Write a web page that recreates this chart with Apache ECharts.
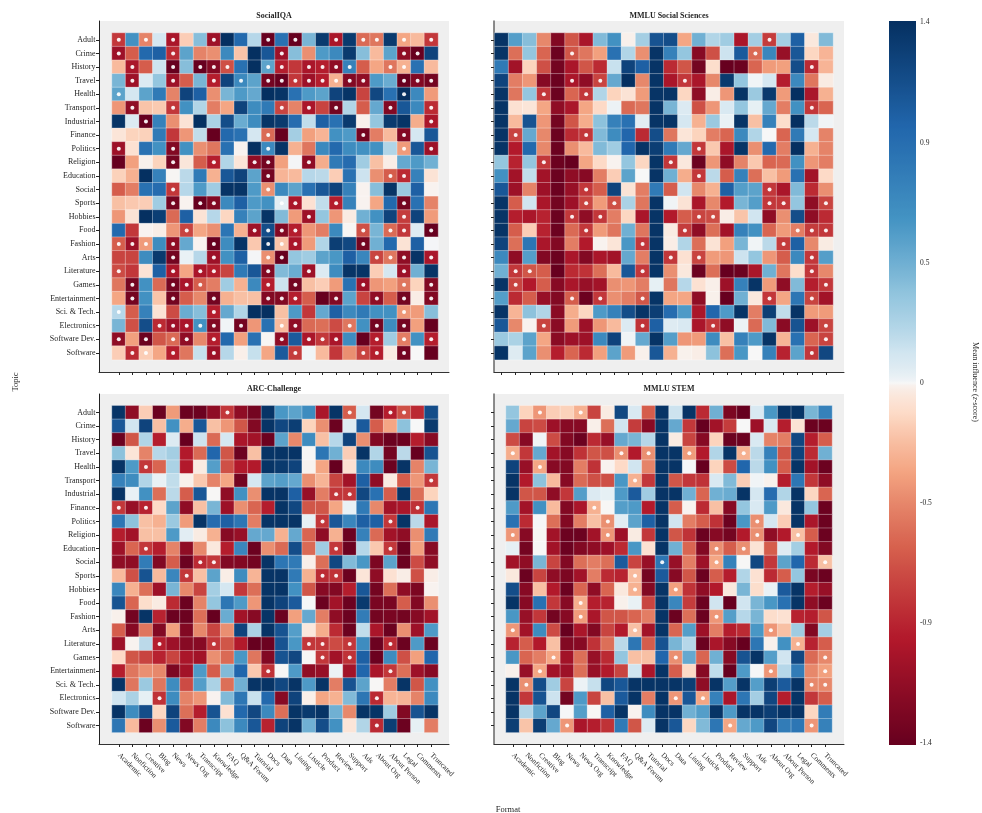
<!DOCTYPE html>
<html>
<head>
<meta charset="utf-8">
<style>html,body{margin:0;padding:0;background:#fff}#c{width:982px;height:813px}</style>
<script src="https://cdn.jsdelivr.net/npm/echarts@6/dist/echarts.min.js"></script>
</head>
<body>
<div id="c"></div>
<script>
const topics = ["Adult","Crime","History","Travel","Health","Transport","Industrial","Finance","Politics","Religion","Education","Social","Sports","Hobbies","Food","Fashion","Arts","Literature","Games","Entertainment","Sci. & Tech.","Electronics","Software Dev.","Software"];
const formats = ["Academic","Nonfiction","Creative","Blog","News","News Org","Transcript","Knowledge","FAQ","Q&A Forum","Tutorial","Docs","Data","Listing","Listicle","Product","Review","Support","Ads","About Org","About Person","Legal","Comments","Truncated"];
const colorbarStops = ["#67001f","#b2182b","#d6604d","#f4a582","#fddbc7","#f7f7f7","#d1e5f0","#92c5de","#4393c3","#2166ac","#053061"];
const colorMin = -1.4, colorMax = 1.4;

// Cell values, expressed as the position along the colour ramp (-1.4 .. 1.4).
const socialIQA = [
[-1,.85,-.7,.25,-1.15,-.35,.6,-1.2,1.4,1.1,.4,-1.4,1.05,-1.4,.65,1.35,-1.15,1.35,-.8,-.75,1.35,-.55,-.45,-1],
[-1.2,-.85,1.1,1.15,-1.05,.75,-.7,-.65,.9,-.4,1.4,1.2,-1.2,.6,-.65,.8,.9,1.35,.6,-.45,.75,-1.25,-1.4,1.3],
[-.45,-1.15,-.85,.3,-1.4,.6,-1.4,-1.3,-.9,1.05,1.4,.75,-1.1,-1,-1.15,-1.1,-1.25,.95,-.85,-.55,-.75,-.5,1.05,-.45],
[.65,-1.2,.2,.55,-1.2,-.85,.65,-1.1,1.3,.9,.75,-1.35,-1.4,-1,-1.2,-1.1,-.5,-1.3,-1.25,.8,.7,-1.4,-1.3,-1.35],
[.75,.25,.75,1,-.7,1.3,1.15,-.65,.65,.8,.72,1.4,1.38,1.05,.8,.75,1.3,1.38,-.95,1.28,1.05,1.4,.9,-.6],
[-.62,-1.25,-.4,-.37,-1,.85,.42,-.72,-.55,1.3,.88,1,-.95,-.7,-1.15,-.95,-1.35,.42,-.85,.72,-1.3,1.2,.9,-1.05],
[1.38,.2,-1.4,.95,-.65,-.2,1.4,.45,1.25,.7,.88,1.38,1.35,1.08,.35,1.15,1.05,1.35,-.07,.55,1.35,1.38,-.52,-1.15],
[-.18,-.32,-.33,1,-1,-.62,.35,-1.4,1.1,1.05,.25,-.8,-1.4,.48,-.58,-.48,.85,.8,-1.35,-.72,-.45,-1.3,.25,1.2],
[-1.2,-.22,1.05,.85,-1.3,.85,-.65,-.75,1.05,-.05,1.4,.9,1.38,-.5,-.75,.9,1.1,.88,.85,.85,.42,-.6,1.2,-1.2],
[-1.4,-.58,-.07,-.32,-1.35,-.17,-.85,-1.1,.42,-.18,-1.25,-1.35,-.58,.03,-1.25,-.52,1,1.08,.5,-.42,-.1,.72,.8,.68],
[-.33,-.5,1.4,.95,-.03,.38,1,-.5,1.2,1.3,.75,-1.35,-.48,-.45,.4,.38,-.35,1.05,.3,-.65,-.85,-1.05,.95,-.2],
[-.85,-.72,1.05,1.08,-1,.4,.8,.5,1.38,1.38,.8,-.65,.9,.75,1.05,1.2,1.3,.95,-.05,.6,1.38,.52,1.15,-.05],
[-.42,-.38,-.35,.5,-1.35,-.05,-1.4,-1.3,.9,1.15,.8,.85,.15,-1.15,-.22,.35,-1.1,.95,-.05,-.55,1.1,-1.35,1.05,-.7],
[-.62,-.2,1.4,1.33,-.8,1.15,-.2,.4,-.3,.95,.75,1.38,.62,-.6,-1.2,.55,-.62,-.12,.68,.85,1.3,-.98,1.3,-.6],
[1.1,-1,-.05,-.1,-.62,-.95,-.55,-.65,1.03,-.5,-1.2,1.25,-1.3,-1.1,-.62,-.72,.9,-.03,-.9,.65,-.8,-1,.18,-1.4],
[-.85,-1.2,-.6,.88,-1.25,.72,-.05,-1.4,.88,1.38,-.38,1.38,-.4,-1.15,-.6,.42,1.33,1.28,-1.35,.68,1.1,-.2,1.15,.03],
[-.95,-.95,.88,1.35,-1.35,.1,.4,-1.2,.85,1.15,.03,-.65,-1.4,.55,.5,.75,.82,1.15,.92,-.95,-.75,-1.25,1.38,-1.15],
[-.92,-1,-.2,1.15,-1.15,-.55,-1.15,-1.1,-.95,1,1.2,-1.3,.62,.7,-1.2,.2,.88,1.38,1.38,-.35,.25,-1.2,.68,1.38],
[-.75,-1.35,.85,-.8,-1.35,-1.15,-.85,-.72,.5,-.5,.9,-1.1,.3,-1.35,-.42,-.35,-.6,1.05,-1.2,-.62,-.58,-.75,-.32,-1.3],
[-.55,-1.35,.85,-.4,-1.35,-.85,-.68,-1.35,-.5,-.42,-.42,-1.3,-1.3,-1.1,-.85,-1.4,-1.3,.75,-.95,-1.25,-.85,-1.35,-.1,-1.3],
[.4,-.85,.95,-.2,-.92,.7,.6,-1.1,.72,.42,1.4,1.4,-.42,.8,-1,.72,1.15,.9,1,.85,.85,-.62,-.6,.6],
[.65,-.9,1.25,-1.05,-1.2,-1.15,.85,-1.3,.05,-1.35,-.62,1.05,-.45,-1.25,-.8,-.78,-.92,-.75,.85,-1.35,.88,-1.35,-.58,-1.4],
[-1.25,-.58,-1.38,-.88,-.8,-1.25,-.68,-1.1,1.1,-.58,1.05,-.03,-1.25,1.18,-1.15,-1,-1.15,.88,-1.4,-1.1,.5,-.72,.85,-1.1],
[-.35,-1.05,-.35,-.55,-1.1,-.75,.33,-1.2,.4,-.08,.33,-.55,1.18,-.98,.05,-.45,-1,-.65,-.95,-1.1,-.12,-1.35,0,-1.4]
];
const socialIQADots = [[0,2,4,7,11,13,16,18,19,21,23],[0,4,12,21,22],[1,4,6,7,8,11,12,14,15,16,17,20,21],[1,4,7,9,11,12,13,14,15,16,17,18,21,22,23],[0,21],[1,4,12,14,16,20,23],[2,23],[11,18,21],[0,4,11,21,23],[4,7,10,11,14],[11,20,21],[4,11],[4,6,7,12,13,16,21],[14,21],[5,10,11,12,13,18,20,21,23],[0,1,2,4,7,11,12,13,18],[4,7,11,12,19,20,21,23],[0,4,6,7,11,14,21],[1,4,5,6,11,13,18,21,23],[1,4,7,11,12,13,16,19,21,23],[0,7,21],[3,4,5,6,7,9,12,13,17,19,21],[0,2,4,5,7,12,14,15,16,19,21,23],[1,2,4,7,13,18,19,21]];

const mmluSocial = [
[1.38,.78,.6,-.68,-1.3,-.88,-1.15,.62,.85,-.07,.48,1.22,1.25,-.55,.68,.42,.5,-1.15,.48,-.98,.48,1.15,-.15,.62],
[1.38,-.78,.55,-.82,-1.38,-.88,-.75,-.58,1.05,.42,-.65,1.38,.95,.55,-1.28,-.9,.3,1.18,-.8,.92,-1.22,1.2,-.3,-.48],
[1,-1.18,-.32,-.9,-1.35,-1.15,-.88,-1.05,.32,1.3,1.15,1.38,-1.05,-.88,-1.35,-.25,-1.4,-1.38,-.82,-.6,-.58,1.25,-1.05,-.48],
[1.3,-.72,-.62,-1.28,-1.38,-1.15,-1.25,-.95,.72,1.4,-.68,1.38,-1.15,-1,-1.15,-.68,1.35,.55,.05,.25,-1.1,.9,-.75,-.12],
[1.38,-.75,.55,-1,-1.38,-.82,-1,.42,-.32,-.2,-.6,1.38,1.38,-.3,-1.25,-.1,-.62,1.38,.52,1.35,-.6,1.4,-1.15,-.5],
[1.38,-.22,-.18,-.55,-1.25,-1.15,-.55,-.28,.08,-.8,-.75,1.38,.65,.2,-.9,-.62,.22,.55,.12,.72,-.72,.85,-1,-.82],
[1.38,-.45,1.22,-.62,-1.35,-.88,-.52,.58,.95,1.05,.15,1.38,1.38,.25,-.5,.52,.1,1.38,-.42,.95,-.25,1.4,.38,.05],
[1.38,-.95,.72,-.68,-1.38,-1.05,-1,.62,.88,1.12,-1.05,1.25,-.75,-.18,-.32,-.72,-.82,.9,.42,0,-.82,1,.25,-.7],
[1.38,-1.12,1.1,-.68,-1.38,-.65,-.45,.62,.5,1.12,1.38,1.33,1,.72,-1,-.38,-1.15,1.38,-.65,1.1,-.72,1.4,-.5,-.7],
[.55,-1.08,.55,-1,-1.38,-1.4,-.55,-.28,-.05,.55,-.3,1.38,-1,-.15,-1.38,-.62,-1.25,-.7,-.38,-.82,-.8,.85,-.62,-.72],
[.85,-1.18,.35,-1.18,-1.38,-1.25,-1.28,-.72,-.35,.75,0,1.38,.68,-.52,-1,.38,-.85,.95,-.78,-.42,-.6,1.05,-1.18,-.28],
[1.2,-1.2,-.7,-1.2,-1.38,-1.22,-1,-.85,1.3,-.2,-.72,1,-.85,.28,-.68,-.5,1.15,.78,.75,-1,-1.15,.62,-1.05,-.65],
[1.38,-.85,.28,-1.15,-1.35,-1.2,-.95,-.6,-.9,.45,-.75,1.38,.05,-.2,-1.15,-.68,-1.12,.65,.78,-1,-1,.55,-1.25,-.95],
[1.38,-1.1,-1.15,-1.08,-1.38,-1,-1.25,-1,-.72,-.3,-1.15,1.38,-1.12,-.85,-.95,-.92,-.1,-.4,.28,-1.25,-.65,1.25,-1.25,-1.05],
[1.38,-.85,-.35,-1.08,-1.38,-.8,-1,-.6,-.75,.68,-.75,1.38,-.12,-.98,-1.25,-.78,-1.18,.95,.85,-.82,-.6,-.72,-.98,-1],
[1.3,-.78,1.02,-1.15,-1.3,-.72,-1.12,-.05,-.18,.82,-1,1.38,-.1,.42,-.78,-.2,-.58,.65,.05,.38,-.98,1.15,-.68,-.12],
[.9,-1.25,.78,-1.3,-1.38,-1.15,-1.3,-1.15,-1.18,.72,-.72,1.38,-1,-.22,-.95,-.6,-.62,.3,.55,-.62,-.85,.9,-1,.78],
[.68,-1,-.88,-.85,-1.4,-1.05,-1.02,-.78,-.45,1.2,-1,1.38,-.65,-.15,-1.38,-.78,-1.4,-1.38,-1.15,.68,-.75,-.25,-1,-.68],
[1.38,-.95,-1.12,-.85,-1.28,-1.15,-1.22,-1.18,-.65,-.62,-.72,.12,-.75,.4,-.22,-.08,-1.2,.95,1.38,-.6,-1.25,.62,-1.1,-1],
[.78,-1.05,-.85,-1.22,-1.3,-.85,-1.38,-1,-.65,-.72,-.88,1.38,-.55,-.55,-1.25,-.07,-1.4,.68,-.15,-1,-.55,1.02,-.95,-1.18],
[1.38,-.48,.58,.42,-1.27,-.52,-.3,.8,.95,1.25,1.38,1.33,1.08,.8,-1.15,1.12,.8,1.38,-.72,1.33,.35,1.38,-.6,-.6],
[1.2,-.68,-.05,-.95,-1.27,-.6,-1.2,-.62,-.45,.2,-1.02,1.15,.18,.22,-1.15,-1,-1.25,.08,-.8,.62,-1.27,1.22,-1.2,-.95],
[.52,.45,.75,-.55,-1.27,-1.2,-1.2,.9,1.3,.05,.72,1.38,.78,-.62,-.6,.88,-.42,.95,.8,1.38,-.48,1.05,-.82,-.95],
[1.38,.18,.75,-.65,-1.1,-.82,-1.05,-.58,.75,-.6,-.07,1.2,-.5,-.06,-.1,.58,-.78,.82,0,.95,-1.08,.75,-1,1.28]
];
const mmluSocialDots = [[19],[5,18],[22],[5,7,13],[3,6],[22],[],[1,6],[14],[3,12],[14],[6,19],[6,8,19,20,23],[5,7,14,15],[6,13,21,22,23],[10,20],[12,14,22],[1,2,10,22],[1,23],[5,7,10,19,22],[],[3,10,15,23],[23],[22]];

const arcChallenge = [
[1.38,-1.25,-.35,-1.38,-.6,-1.38,-1.38,-1.25,-1,-1.25,-1.35,1.38,.82,.75,.88,-1.15,1.38,-.85,.25,-1.35,-1.1,-.9,-1.05,1.25],
[1.2,.28,1.3,-.42,.85,-.52,1.2,-.42,-.62,-.88,-1.3,1.38,1.28,1.33,-.32,-.65,-1.38,.18,1.18,-.85,-.55,.58,0,1.35],
[-1.38,-.88,.42,-1.1,.2,-1.4,.3,-.8,.25,-1.15,-1.18,-1.38,.75,-.68,.88,-.42,.4,1.3,-.65,-1.3,-1.38,-1.38,-1.1,-1.28],
[.58,-.18,-.7,.4,.48,-1.12,-.8,1.12,-.88,-1.38,-.42,1.38,1.38,1.38,-.02,1.02,.68,-.35,1.38,.42,-1.35,.38,-1.4,1.22],
[1.38,.8,-1,-.82,.45,-1.12,-.12,.78,-.9,-1.12,-1.12,1.38,1.35,1.3,-.05,-.55,-1.4,-.22,.9,.88,-1.38,1.38,-.7,.65],
[.95,.88,.42,.1,.35,-.07,-.38,-.7,-.55,-1.35,.25,.75,.78,.72,-.65,-.48,-.95,-1.18,1.15,-1.25,-.12,-.85,-.62,-1],
[1.38,.1,.85,-.78,.38,-.85,1.2,-.02,-1.25,.85,-.65,1.38,1.38,1.15,-1.22,-.72,-1,-1,1.28,1.05,-.85,1.38,-.78,-.32],
[-1,-1.22,-1.08,-.28,.75,-1.25,-.42,.65,-1.2,-.65,-.82,-1.1,1.38,1.28,-.88,-.88,-.55,.1,1,-.68,-1.18,-1.15,-1.02,1.02],
[1.02,.58,-.42,-.5,.52,-.6,1.38,1.08,1.15,1.02,-.72,1.38,1.38,1.38,.12,-1,1.2,.92,1.15,1.15,-1,1.38,.38,-1.15],
[-1.1,-1.18,-.42,-.42,.8,.15,-.12,-.5,-1.28,-1.22,.72,.72,-.5,.72,-.82,-1.25,-.5,-1.38,.95,-.8,-1.18,-1.25,-.65,1],
[-1.2,-.82,-1,-1.1,-.7,-1.25,-.68,-.15,-1.1,.92,-1.38,-.65,-.8,1.25,-.8,.5,-1,-1.38,.4,-.38,-1,-1.38,-.58,-1.28],
[-1.25,-1.25,.98,-1.3,-.85,-1.38,-1.05,-1,-1.3,-1.3,-1.35,1.38,1.02,1,-.08,-.78,1.28,.62,.82,-1.32,.75,-1.38,-.92,-1.25],
[-.45,-.9,1.22,-.45,.92,-1,-.42,.75,-.1,.88,-.48,1.38,1.38,1,-.5,-1.05,-1.02,-1.38,-.18,-1.25,-.22,-.1,-.9,-.1],
[.92,-.5,-.78,-1.2,.65,-.68,-.95,.48,.25,-1,-.78,1.38,1.38,.85,-.88,-1.28,-1.3,-1.1,1.2,-1.35,-.78,-1.25,-1.32,-.05],
[1.22,-.82,-.25,-.12,-1.05,-1.38,-.7,.55,1.02,.8,-.62,1.38,1.3,1.18,.02,-1.38,-1.18,-1.38,1.35,-1.33,-1.33,-.85,-1.3,-.65],
[-.07,-1.35,1.38,-1.08,-1.38,-1.38,-.78,-1.4,.7,-1.18,-1.28,1.38,-1.38,-.58,.72,-.72,-1.25,-1.38,.98,-1.35,-1.33,-1.35,-1.28,-1.18],
[-.85,-1.28,-.75,-1.3,-.58,-1.3,-.68,-.95,-.65,1.3,.45,1.38,1.22,.78,-.15,-.52,-1.05,-1.38,.35,-1.15,-1.38,-.65,-1.2,.8],
[-1.2,-.05,.38,-1.1,-1.2,-1.28,-1.28,-1,-.88,-1.12,-1.4,-1.38,1.22,.82,-1,-1,-.92,-1,.88,-1.38,-1.05,-1.38,.8,-1.38],
[-.28,-.88,-.95,-1.08,-.95,-1.15,-1.18,-.65,-.8,.82,-.75,-1.3,1.22,1.28,-.02,-1,-1.18,-1.02,1.15,-1.38,.88,-.9,-.58,1.12],
[-1.1,-.75,-.65,-.68,-1.32,-1.18,.8,-.85,.62,1.12,-.38,-1.02,-.02,.8,-1.25,-1.22,.08,-1.18,1.12,-1.15,-1,-.78,-1.2,-1.28],
[1.38,-.75,.52,-.75,.88,-.92,.78,.45,-.78,.68,1.38,1.38,1.28,1.38,.8,1.38,-.72,1.22,.75,-.02,-.72,1.38,-.88,.85],
[.28,.45,.12,-1.02,.88,-.7,-.62,-.05,.62,1.02,.32,1.1,-1.28,1.3,-.08,-.55,-.5,.62,1.02,-1.05,-.48,-.48,-.7,.9],
[1.38,.88,1.25,-.3,1.3,-.78,-1.1,1.22,-.22,1.1,1.28,.9,-.78,1.38,1.35,1.38,.68,-.68,1.38,1.38,.5,-1.3,1.22,1.38],
[1.02,-.45,-1.38,-.65,1.18,-1.3,-.72,.9,.58,.9,1.2,-1.08,1.3,1.38,.68,1.25,.85,-.18,.42,-1.05,1.33,-1.38,.12,-.72]
];
const arcChallengeDots = [[8,17,20,21],[],[],[],[2],[23],[16,17],[0,2,22],[15,20],[],[2,16,20],[6,7],[5,15,16],[],[],[],[],[3,7,14,15,17,20],[15,17],[11,20],[],[3,19],[],[19]];

const mmluStem = [
[.55,-.32,-.62,-.35,-.33,-.5,-.95,-.12,1.28,.22,-.85,1.38,.3,1.38,-1.05,.68,-1.32,-1.4,.22,.82,1.38,1.38,.65,.95],
[.72,-.95,-.92,-1.2,-1.28,-1.28,-.08,-.78,.28,-.98,-1.28,1.38,.72,-1,-1.4,-1.18,-.98,0,-1.2,.22,-1.1,-.2,-1.38,-1.38],
[-.92,-1.28,.05,-.92,-1.3,-1.38,-1.05,-1.22,.72,.65,.4,1.38,-.12,-.95,-1.28,-.32,-1.38,-1.38,.22,-.7,-.72,1.28,-1.1,-.85],
[-.52,-1,.72,-1.18,-1.28,-1.02,-.88,-.9,-.65,-1.12,-.65,1.38,1.38,-.6,-1.12,.42,1.38,-.5,.38,.95,-.88,1.3,-1.05,.68],
[1.3,-1.22,-.55,-1.28,-1.3,-.72,-1.02,-.05,-.28,.28,-.7,1.38,1.38,.02,-1.4,-.32,-.92,1.12,.38,.85,-.85,1.38,-1.18,-1.38],
[1.38,-1.12,.58,-.45,-1.28,-.8,-.9,-.9,.82,-.5,-1,1.38,-.88,-1,-1.02,.22,.62,-.35,.05,-.06,-1.1,1.02,-1,-1.25],
[1.38,-.88,-.88,-1.25,-1,.78,.2,.12,.8,1.18,.5,1.38,1.38,.68,-.82,.68,.7,1.38,.25,1.08,.42,1.38,-.3,-.82],
[.8,-1.18,.85,-.45,-1.3,-1.15,-.5,-.02,.78,.8,-1.12,1.38,-.85,-.05,-1.05,-.42,-1.28,.55,.22,.8,-.15,1.38,.55,-1.38],
[1.05,-1.05,.02,-.78,-1.3,-.72,-.42,-.65,.15,.75,1.15,1.38,.28,-.72,-.85,-1.02,-1.38,.82,-.65,.25,-.35,1.38,-1.15,-1.38],
[-.62,-1.28,-.03,-1.18,-1.38,-1.38,-1.18,-.62,-1.2,-.12,-1,1.38,-.88,-1.02,-1.38,-1.28,-1.35,-1.12,-.65,-1.25,-1.12,-.42,-.85,-1.38],
[.12,-1.35,-.02,-1.18,-1.38,-1.3,-1.25,-1.2,-1.05,.82,-.22,1.38,.68,-.82,-1.3,-.65,-.85,-.65,-.2,-.85,.18,.48,-1.12,-1.3],
[-1.18,-1.25,.65,-.95,-1.3,-.78,-.72,-.78,1.18,-.95,-1.22,1.02,-1.22,-.72,-1.2,-.55,.95,-.02,1.28,-1,.75,1.12,-1.05,-.42],
[-.15,-1.38,-.95,-1.25,-1.32,-1.18,-.72,-1.05,-1.08,-.45,-1.35,1.18,-1.28,-.88,-1.38,-.85,-1.1,.42,-.22,-1.05,-.85,.55,-1.33,-1.38],
[1.25,-1.28,-.42,-1.12,-1.38,-.82,-1.25,-.82,-.15,-.5,-1.3,1.38,-.58,-1.02,-1.25,-1.12,-.15,.65,-.25,.1,1.18,1.38,-1.1,-1.22],
[1.38,-1.28,1.05,-1,-1.28,-.52,-1.1,-1.08,-.07,.1,-.95,1.38,.92,-.98,-1.38,.28,-1.4,.28,.65,.82,1.05,1.38,-1.25,-1.38],
[.82,-1.22,-1,-1.35,-1.28,-.6,-1.15,-.88,-.88,-.82,-.72,1.38,-1.38,-.78,-1.38,-.62,.78,.4,.65,-.25,-.22,-1.08,-1.1,-.88],
[-.62,-1.18,.88,-.92,-1.4,-1.15,-1.3,-.95,-1.12,-.42,-1.18,1.38,-.82,.78,-1.2,-.72,-1.1,-1.05,.82,-.62,-.42,.5,-1.3,.48],
[-1.08,-.85,-1.12,-.42,-1.3,-1.28,-1.02,-.78,.38,1.02,-.85,1.22,.65,.4,-1.38,-1.15,-1.28,-1.4,1.02,-.06,.85,-.5,-1.08,-.85],
[.82,-.82,-.72,-.55,-1.18,-.78,-1.22,-1.05,.55,-.42,-.42,1.12,-.65,.72,-.82,.68,-1.28,1.22,1.38,.78,.28,1.28,-.8,-.68],
[-.07,-1.22,-.55,-1.18,-1.2,-.78,-1.22,-1.12,-.95,.28,-1.15,1.38,-.85,-.28,-1.28,.35,-1.4,.8,.02,-.62,.4,.98,-.68,-.58],
[1.38,-.65,1.25,.5,-.95,.08,.33,1.28,1.2,1.38,1.38,1.38,1.38,1.33,-1.25,1.38,.78,1.38,.78,1.33,1.18,1.38,-.68,-.68],
[1.38,-1,1.22,.3,-1.35,.8,-.95,-.42,1.18,1.38,-.72,1.38,-.62,1.2,-.55,.95,-1.15,1.02,.48,1.28,-1.1,1.38,-1,-.85],
[1.38,.42,.75,1.28,.02,.78,-.02,1.15,1.38,-.05,.88,1.38,1.38,.68,.78,1.38,.8,1.38,1.38,1.33,1.38,1.38,-.3,.98],
[1.33,-.4,1.33,.72,-.62,-1.15,-1.1,-1.02,1,-.88,.2,1.38,1.2,-.3,.62,1.02,-.55,.72,.8,1.28,.98,1.02,-.62,.95]
];
const mmluStemDots = [[2,5],[],[],[0,8,10,13,17],[2],[9],[],[6],[7,18],[0,7,18,21],[15,17],[11,15,23],[9],[9,12],[5],[5,15],[0,9,19],[21],[3,12,23],[2,19,23],[1,22,23],[12,14],[],[4,16,22]];

// The colour bar is compressed towards its centre (power norm); ramp position <-> z-score.
const NORM_GAMMA = 0.65;
const rampToScore = p => Math.sign(p)*colorMax*Math.pow(Math.abs(p)/colorMax,1/NORM_GAMMA);
const scoreToRamp = z => Math.sign(z)*colorMax*Math.pow(Math.abs(z)/colorMax,NORM_GAMMA);
const hexRgb = h => [1,3,5].map(i=>parseInt(h.slice(i,i+2),16));
function rampColor(p){
  const t=(p-colorMin)/(colorMax-colorMin)*(colorbarStops.length-1);
  const i=Math.min(Math.floor(t),colorbarStops.length-2), f=t-i;
  const a=hexRgb(colorbarStops[i]), b=hexRgb(colorbarStops[i+1]);
  return 'rgb('+a.map((v,k)=>Math.round(v+(b[k]-v)*f)).join(',')+')';
}
const ramp=[]; const RAMP_STEPS=280;
for(let i=0;i<=RAMP_STEPS;i++){ ramp.push(rampColor(scoreToRamp(colorMin+(colorMax-colorMin)*i/RAMP_STEPS))); }

const panels = [
  {title:"SocialIQA", rows:socialIQA, dots:socialIQADots, cell:[112,33,326,326.7], frame:[99,21,350,351], ylab:true, xlab:false, spine:['#222',1]},
  {title:"MMLU Social Sciences", rows:mmluSocial, dots:mmluSocialDots, cell:[494.5,33,338.5,326.7], frame:[494,21,350,351], ylab:false, xlab:false, spine:['#666',1.5]},
  {title:"ARC-Challenge", rows:arcChallenge, dots:arcChallengeDots, cell:[112,405.7,326,326.7], frame:[99,394,350,350], ylab:true, xlab:true, spine:['#222',1]},
  {title:"MMLU STEM", rows:mmluStem, dots:mmluStemDots, cell:[506,405.7,326,326.7], frame:[494,394,350,350], ylab:false, xlab:true, spine:['#666',1.5]}
];

const FONT = '"Liberation Serif","Times New Roman",serif';
const INK = '#262626';
const grid=[], xAxis=[], yAxis=[], series=[], title=[];

panels.forEach(p=>{
  const [fx,fy,fw,fh]=p.frame, [cx,cy,cw,ch]=p.cell;
  const fi=grid.length;
  grid.push({left:fx,top:fy,width:fw,height:fh,show:true,backgroundColor:'#efefef',borderWidth:0,z:0});
  xAxis.push({type:'value',gridIndex:fi,min:0,max:1,axisLine:{show:true,onZero:false,lineStyle:{color:'#333',width:1}},axisTick:{show:false},axisLabel:{show:false},splitLine:{show:false}});
  yAxis.push({type:'value',gridIndex:fi,min:0,max:1,axisLine:{show:true,onZero:false,lineStyle:{color:p.spine[0],width:p.spine[1]}},axisTick:{show:false},axisLabel:{show:false},splitLine:{show:false}});
  const ci=grid.length;
  grid.push({left:cx,top:cy,width:cw,height:ch,show:false,z:1});
  xAxis.push({type:'category',gridIndex:ci,data:formats,position:'bottom',offset:fy+fh-cy-ch,
    axisLine:{show:false},axisTick:{show:true,alignWithLabel:true,length:3,lineStyle:{color:INK,width:1}},splitLine:{show:false},
    axisLabel:{show:p.xlab,interval:0,rotate:-45,margin:10,fontFamily:FONT,fontSize:7.5,color:INK,hideOverlap:false}});
  yAxis.push({type:'category',gridIndex:ci,data:topics,inverse:true,position:'left',offset:cx-fx,
    axisLine:{show:false},axisTick:{show:true,alignWithLabel:true,length:3,lineStyle:{color:INK,width:1}},splitLine:{show:false},
    axisLabel:{show:p.ylab,interval:0,margin:3.5,fontFamily:FONT,fontSize:8,color:INK,hideOverlap:false}});
  series.push({type:'heatmap',xAxisIndex:ci,yAxisIndex:ci,name:p.title,
    data:p.rows.flatMap((r,y)=>r.map((v,x)=>[x,y,rampToScore(v)])),
    itemStyle:{borderColor:'rgba(255,255,255,0.55)',borderWidth:0.6},emphasis:{disabled:true},silent:true,z:2});
  series.push({type:'scatter',xAxisIndex:ci,yAxisIndex:ci,name:p.title+' significant',
    data:p.dots.flatMap((cols,y)=>cols.map(x=>[x,y])),
    symbol:'circle',symbolSize:4,itemStyle:{color:'#fff',opacity:0.92},silent:true,z:3});
  title.push({text:p.title,left:fx+fw/2,top:fy-9.5,textAlign:'center',padding:0,
    textStyle:{fontFamily:FONT,fontSize:8,fontWeight:'bold',color:INK}});
});

const cbi=grid.length;
grid.push({left:889,top:22.5,width:27,height:720.5,show:false,z:5});
xAxis.push({type:'value',gridIndex:cbi,min:0,max:1,show:false});
yAxis.push({type:'value',gridIndex:cbi,min:colorMin,max:colorMax,interval:(colorMax-colorMin)/6,position:'right',
  axisLine:{show:false},splitLine:{show:false},axisTick:{show:true,length:3,lineStyle:{color:INK,width:.8}},
  axisLabel:{show:true,margin:4,fontFamily:FONT,fontSize:7.5,color:INK,showMinLabel:true,showMaxLabel:true,
    formatter:v=>String(+(+v).toFixed(1))}});

const option={
  animation:false,backgroundColor:'#fff',textStyle:{fontFamily:FONT},
  title,grid,xAxis,yAxis,series,
  visualMap:{type:'continuous',show:false,min:colorMin,max:colorMax,seriesIndex:series.map((s,i)=>s.type==='heatmap'?i:-1).filter(i=>i>=0),
    inRange:{color:ramp}},
  graphic:[
    {type:'rect',x:889,y:21,shape:{x:0,y:0,width:27,height:724},z:1,
      style:{fill:new echarts.graphic.LinearGradient(0,0,0,1,ramp.map((c,i)=>({offset:1-i/RAMP_STEPS,color:c})).reverse())}},
    {type:'text',x:16,y:382,rotation:Math.PI/2,style:{text:'Topic',fontFamily:FONT,fontSize:8.5,fill:INK,align:'center',verticalAlign:'middle'}},
    {type:'text',x:508,y:809.5,style:{text:'Format',fontFamily:FONT,fontSize:8.5,fill:INK,align:'center',verticalAlign:'middle'}},
    {type:'text',x:975,y:382,rotation:-Math.PI/2,style:{text:'{a|Mean influence (}{b|z}{a|-score)}',align:'center',verticalAlign:'middle',
      rich:{a:{fontFamily:FONT,fontSize:8,fill:INK},b:{fontFamily:FONT,fontSize:8,fontStyle:'italic',fill:INK}}}}
  ]
};
echarts.init(document.getElementById('c')).setOption(option);
</script>
</body>
</html>
